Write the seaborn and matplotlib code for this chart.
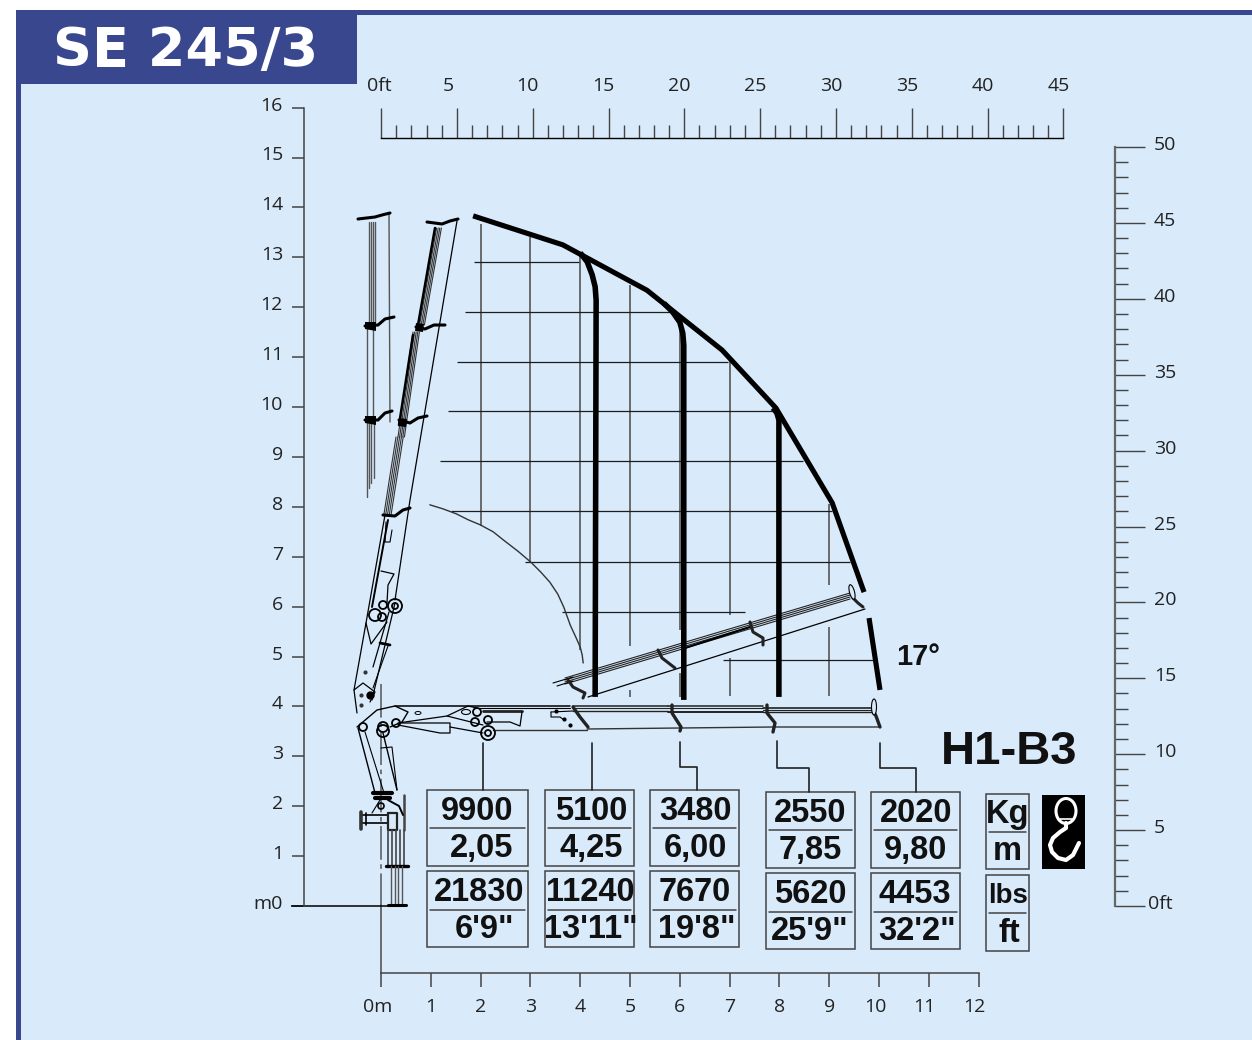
import matplotlib
matplotlib.use("Agg")
import matplotlib.pyplot as plt
import seaborn as sns
from matplotlib.patches import Circle, Ellipse, Polygon, Rectangle

W, H = 1252, 1040
NAVY = "#39478F"
SKY = "#D9EAFA"
INK = "#222222"
EDGE = "#444444"

# envelope and load lines, metres
envelope_x = [1.85, 3.65, 5.34, 6.85, 7.93, 9.06, 9.70]
envelope_y = [13.83, 13.25, 12.34, 11.14, 9.98, 8.08, 6.29]
low_angle_x = [9.80, 10.02]
low_angle_y = [5.77, 4.33]
load1_x = [4.00, 4.14, 4.24, 4.30, 4.32, 4.30]
load1_y = [13.09, 12.91, 12.65, 12.41, 12.14, 4.19]
load2_x = [5.68, 5.86, 6.00, 6.06, 6.08, 6.08]
load2_y = [12.08, 11.90, 11.70, 11.48, 11.24, 4.13]
load3_x = [7.87, 7.95, 7.99, 7.99]
load3_y = [9.98, 9.88, 9.74, 4.19]
arc_x = [0.98, 1.24, 1.51, 1.75, 1.99, 2.25, 2.49, 2.75, 3.01, 3.21, 3.39, 3.55, 3.67, 3.80, 3.92, 4.00, 4.04, 4.06]
arc_y = [8.04, 7.96, 7.86, 7.74, 7.64, 7.50, 7.31, 7.11, 6.89, 6.69, 6.49, 6.25, 5.99, 5.63, 5.37, 5.19, 5.03, 4.87]

# grid segments, metres
vgrid_x = [2, 3, 4, 5, 5, 6, 6, 7, 7, 9, 9]
vgrid_top = [13.67, 13.41, 13.05, 12.44, 4.33, 11.84, 4.67, 11.00, 4.97, 8.05, 5.59]
vgrid_bot = [7.62, 6.89, 5.13, 5.21, 4.19, 5.53, 4.19, 5.83, 4.21, 6.43, 4.21]
hgrid_y = [12.9, 11.9, 10.9, 9.92, 8.92, 7.92, 6.9, 5.9, 4.92]
hgrid_start = [1.87, 1.69, 1.53, 1.35, 1.19, 1.41, 2.89, 3.63, 6.87]
hgrid_end = [3.98, 5.90, 6.97, 7.85, 8.47, 9.06, 9.42, 7.31, 9.88]

# table values
kg_values = ["9900", "5100", "3480", "2550", "2020"]
m_values = ["2,05", "4,25", "6,00", "7,85", "9,80"]
lbs_values = ["21830", "11240", "7670", "5620", "4453"]
ft_values = ["6'9\"", "13'11\"", "19'8\"", "25'9\"", "32'2\""]

# axis labels
m_ticks = list(range(13))
height_ticks = list(range(17))
ft_top_major = list(range(0, 46, 5))
ft_right_major = list(range(0, 51, 5))

sns.set_theme(style="white")
plt.rcParams["font.family"] = ["Open Sans", "DejaVu Sans"]

fig = plt.figure(figsize=(W / 100, H / 100), dpi=100, facecolor="white")

# pixel layer for the frame, the boxes and the crane drawing
art = fig.add_axes([0, 0, 1, 1], facecolor="none")
art.set_xlim(0, W)
art.set_ylim(H, 0)
art.axis("off")

art.add_patch(Rectangle((16, 10), W - 16, H - 10, fc=NAVY, ec="none", zorder=0))
art.add_patch(Rectangle((21, 15), W - 21, H - 15, fc=SKY, ec="none", zorder=0.1))
art.add_patch(Rectangle((16, 10), 341, 74, fc=NAVY, ec="none", zorder=0.2))
art.text(186, 51, "SE 245/3", color="white", fontsize=39, fontweight="bold",
         family="DejaVu Sans", ha="center", va="center")

# metre axes, same size as the figure
ax = fig.add_axes([0, 0, 1, 1], facecolor="none")
ax.set_xlim(-381 / 49.8, (W - 381) / 49.8)
ax.set_ylim((906 - H) / 49.9, 906 / 49.9)
for side in ["top", "right"]:
    ax.spines[side].set_visible(False)
ax.spines["left"].set_position(("data", (304 - 381) / 49.8))
ax.spines["left"].set_bounds(0, 16)
ax.spines["bottom"].set_position(("data", (906 - 973) / 49.9))
ax.spines["bottom"].set_bounds(0, 12)
for side in ["left", "bottom"]:
    ax.spines[side].set_color(EDGE)
    ax.spines[side].set_linewidth(1.1)
ax.set_xticks(m_ticks)
ax.set_yticks(height_ticks)
ax.tick_params(axis="x", direction="out", length=10, width=1.1, color=EDGE,
               bottom=True, labelbottom=False)
ax.tick_params(axis="y", direction="out", length=9, width=1.1, color=EDGE,
               left=True, labelleft=False)

for m in m_ticks:
    label = "0m" if m == 0 else str(m)
    dx = -3 if m == 0 else (-4 if m >= 10 else 0)
    ax.annotate(label, (m, (906 - 973) / 49.9), textcoords="offset pixels",
                xytext=(dx, -34), ha="center", va="center", fontsize=14, color=INK)
for h in height_ticks:
    label = "m0" if h == 0 else str(h)
    ax.annotate(label, ((304 - 381) / 49.8, h), textcoords="offset pixels",
                xytext=(-21, 2), ha="right", va="center", fontsize=14, color=INK)

# chart marks
ax.vlines(vgrid_x, vgrid_bot, vgrid_top, color="#555555", lw=1.2, zorder=2)
ax.hlines(hgrid_y, hgrid_start, hgrid_end, color="#1c1c1c", lw=0.9, zorder=2)
ax.hlines(0, (291 - 381) / 49.8, (393 - 381) / 49.8, color="black", lw=1.1, zorder=2)
sns.lineplot(x=arc_x, y=arc_y, sort=False, estimator=None, color="#333333", lw=1.0, ax=ax)
for xs, ys, width in [(envelope_x, envelope_y, 3.7), (low_angle_x, low_angle_y, 3.7),
                      (load1_x, load1_y, 4.0), (load2_x, load2_y, 4.0), (load3_x, load3_y, 4.0)]:
    sns.lineplot(x=xs, y=ys, sort=False, estimator=None, color="black", lw=width,
                 ax=ax, zorder=4, solid_capstyle="butt", solid_joinstyle="round")

# top feet ruler
ax_top = fig.add_axes([381 / W, 1 - 138 / H, (1063.5 - 381) / W, 30 / H], facecolor="none")
ax_top.set_xlim(0, 45)
ax_top.set_ylim(0, 1)
sns.despine(ax=ax_top, left=True)
ax_top.set_yticks([])
ax_top.set_xticks(ft_top_major)
ax_top.set_xticks(range(46), minor=True)
ax_top.tick_params(axis="x", which="major", direction="in", length=21.6, width=1.0,
                   color=EDGE, bottom=True, labelbottom=False)
ax_top.tick_params(axis="x", which="minor", direction="in", length=9.4, width=1.0,
                   color=EDGE, bottom=True)
ax_top.spines["bottom"].set_color("black")
ax_top.spines["bottom"].set_linewidth(1.0)
for ft in ft_top_major:
    label = "0ft" if ft == 0 else str(ft)
    dx = -2 if ft == 0 else (-9 if ft == 5 else -5)
    ax_top.annotate(label, (ft, 1), xycoords=ax_top.get_xaxis_transform(),
                    textcoords="offset pixels", xytext=(dx, 22), ha="center", va="center",
                    fontsize=14, color=INK)

# right feet ruler
ax_right = fig.add_axes([1115 / W, 1 - 906 / H, 30 / W, (906 - 147) / H], facecolor="none")
ax_right.set_xlim(0, 1)
ax_right.set_ylim(0, 50)
sns.despine(ax=ax_right, bottom=True)
ax_right.set_xticks([])
ax_right.set_yticks(ft_right_major)
ax_right.set_yticks(range(51), minor=True)
ax_right.tick_params(axis="y", which="major", direction="in", length=21.6, width=1.0,
                     color=EDGE, left=True, labelleft=False)
ax_right.tick_params(axis="y", which="minor", direction="in", length=9.4, width=1.0,
                     color=EDGE, left=True)
ax_right.spines["left"].set_color("#666666")
ax_right.spines["left"].set_linewidth(1.6)
for ft in ft_right_major:
    label = "0ft" if ft == 0 else str(ft)
    dx = 3 if ft == 0 else 9
    ax_right.annotate(label, (1, ft), xycoords=ax_right.get_yaxis_transform(),
                      textcoords="offset pixels", xytext=(dx, 2), ha="left", va="center",
                      fontsize=14, color=INK)


# load table, pixel layer
def box(x0, x1, y0, y1, div, top, bottom, ctop, cbottom, size=23.5, size_top=None):
    art.add_patch(Rectangle((x0, y0), x1 - x0, y1 - y0, fc="none", ec=EDGE, lw=1.1, zorder=3))
    art.plot([x0 + 3, x1 - 3], [div, div], color=EDGE, lw=1.1, zorder=3)
    art.text(ctop, (y0 + div) / 2 + 2, top, fontsize=size_top or size, fontweight="bold",
             family="Liberation Sans", color="#111111", ha="center", va="center", zorder=5)
    art.text(cbottom, (div + y1) / 2 + 1, bottom, fontsize=size, fontweight="bold",
             family="Liberation Sans", color="#111111", ha="center", va="center", zorder=5)


kg_boxes = [(427, 528, 790), (545, 634, 790), (650, 739, 790), (766, 855, 792), (871, 960, 792)]
kg_centres = [(477, 482), (591, 591), (695, 695), (810, 810), (916, 916)]
lbs_centres = [(479, 485), (590, 591), (695, 697), (810, 810), (915, 917)]
for i, (x0, x1, y0) in enumerate(kg_boxes):
    box(x0, x1, y0, y0 + 76, y0 + 38, kg_values[i], m_values[i], *kg_centres[i])
    box(x0, x1, y0 + 81, y0 + 157, y0 + 120, lbs_values[i], ft_values[i], *lbs_centres[i])
box(986, 1029, 794, 869, 832, "Kg", "m", 1008, 1007)
box(986, 1029, 875, 951, 913, "lbs", "ft", 1008, 1009, size_top=20)

art.text(1009, 752.5, "H1-B3", fontsize=34, fontweight="bold", family="Liberation Sans",
         color="#111111", ha="center", va="center")
art.text(918, 657, "17°", fontsize=21, fontweight="bold", family="Liberation Sans",
         color="#111111", ha="center", va="center", zorder=5)

# leaders from the boom to the boxes
leaders = [
    [(483, 743), (483, 790)],
    [(592, 743), (592, 790)],
    [(680, 742), (680, 767), (697, 767), (697, 790)],
    [(777, 741), (777, 768), (809, 768), (809, 792)],
    [(880, 743), (880, 768), (916, 768), (916, 792)],
]
for pts in leaders:
    art.plot(*zip(*pts), color="#222222", lw=1.2, zorder=3)

# hook icon
art.add_patch(Rectangle((1042, 795), 43, 74, fc="black", ec="none", zorder=3))
art.add_patch(Ellipse((1066, 811), 20, 25, fc="none", ec="white", lw=2.2, zorder=4))
art.plot([1060, 1072], [819, 819], color="white", lw=1.2, zorder=4)
art.plot([1066, 1066, 1060, 1053, 1050, 1052, 1058, 1066, 1073, 1079],
         [823, 828, 832, 838, 845, 852, 858, 860, 855, 843],
         color="white", lw=3.0, solid_capstyle="round", zorder=4)


def draw(pts, lw=0.9, color="black", z=3):
    art.plot(*zip(*pts), color=color, lw=lw, zorder=z, solid_joinstyle="round")


def pin(x, y, r, lw=1.0):
    art.add_patch(Circle((x, y), r, fc="none", ec="black", lw=lw, zorder=3))


def fill(pts, color="black"):
    art.add_patch(Polygon(pts, closed=True, fc=color, ec="none", zorder=3))


# stowed boom, upright
for x0, x1, y0, y1 in [(369, 369, 222, 322), (371, 371, 222, 322), (373, 373, 222, 322), (375, 375, 222, 322),
                       (367, 367, 325, 420), (373, 373, 325, 420),
                       (367, 367, 420, 497), (369, 369, 420, 488), (371, 371, 420, 483), (374, 374, 420, 478)]:
    draw([(x0, y0), (x1, y1)], lw=1.0, color="#555555")
draw([(389, 213), (390, 422)], lw=1.0, color="#555555")
for head in ([(358, 219), (375, 217), (382, 215), (390, 213)],
             [(365, 326), (378, 325), (385, 319), (394, 317)],
             [(365, 420), (378, 420), (385, 413), (392, 411)]):
    draw(head, lw=2.2)
fill([(365, 322), (376, 322), (376, 331), (365, 329)])
fill([(365, 416), (376, 416), (376, 425), (365, 423)])

# raised boom
for k in range(5):
    draw([(435 + 1.6 * k, 228), (418 + 1.6 * k, 325)], lw=0.8, color="#333333")
    draw([(413 + 1.6 * k, 332), (398 + 1.6 * k, 437)], lw=0.8, color="#333333")
    draw([(396 + 1.8 * k, 437), (384 + 1.8 * k, 514)], lw=0.8, color="#333333")
draw([(435, 228), (418, 325)], lw=1.8)
draw([(413, 335), (399, 425)], lw=1.8)
draw([(457, 221), (410, 500), (395, 600)])
for head in ([(427, 222), (442, 224), (450, 221), (458, 219)],
             [(416, 327), (425, 329), (434, 325), (445, 325)],
             [(399, 420), (410, 423), (418, 418), (427, 416)],
             [(383, 515), (395, 516), (403, 510), (410, 508)]):
    draw(head, lw=2.2)
fill([(416, 323), (424, 324), (423, 332), (415, 331)])
fill([(399, 418), (407, 419), (406, 427), (398, 426)])

draw([(385, 515), (366, 623), (354, 690), (357, 713)])
draw([(388, 520), (372, 607)], lw=1.4)
draw([(381, 571), (394, 574), (388, 585), (387, 603)], lw=0.9)
draw([(386, 522), (385, 542), (390, 542), (392, 530)], lw=0.8)
draw([(395, 603), (375, 687), (372, 700)])
draw([(389, 612), (373, 667)])
draw([(380, 643), (390, 645)], lw=2.0)
draw([(388, 646), (373, 688)], lw=0.8)
draw([(354, 690), (363, 683), (375, 692), (370, 702)])
draw([(366, 623), (371, 644), (387, 622)])
art.plot([370], [695], "o", ms=5, color="black", zorder=3)
art.plot([365, 361, 361], [672, 695, 705], "o", ms=2, color="#333333", zorder=3)
for x, y, r in [(395, 606, 7), (395, 606, 3), (375, 615, 6), (383, 605, 4), (382, 617, 4)]:
    pin(x, y, r, lw=1.3)

# working boom, horizontal
draw([(357, 727), (377, 710), (395, 706), (408, 712), (402, 722), (390, 727)], lw=1.0)
draw([(395, 706), (570, 706)], lw=1.1)
draw([(478, 708), (570, 708)], lw=0.8)
draw([(400, 723), (450, 723), (450, 733), (440, 733), (398, 725), (400, 723)], lw=0.9)
draw([(450, 727), (483, 733)], lw=0.9)
draw([(398, 723), (447, 716), (468, 706), (477, 708)], lw=0.9)
draw([(447, 716), (483, 725)], lw=0.9)
draw([(483, 711), (522, 711)], lw=2.0, color="#222222")
draw([(522, 712), (520, 726), (510, 722), (487, 722)], lw=0.9)
draw([(493, 730), (587, 730)], lw=1.0, color="#333333")
draw([(551, 712), (551, 717), (560, 717), (564, 720)], lw=0.8)
draw([(551, 712), (573, 711)], lw=0.8)
art.plot([570, 556, 564], [725, 711, 719], "o", ms=2, color="black", zorder=3)
for x, y, r in [(477, 712, 4), (475, 722, 4), (488, 720, 4), (488, 733, 7), (488, 733, 3),
                (363, 727, 4), (383, 727, 5), (383, 731, 6), (396, 723, 4)]:
    pin(x, y, r, lw=1.3)
art.add_patch(Ellipse((466, 712), 9, 5, fc="none", ec="black", lw=0.8, zorder=3))
art.add_patch(Ellipse((418, 713), 6, 3, fc="none", ec="black", lw=0.7, zorder=3))

# telescopic sections, horizontal
for y0, y1, x0, x1, w in [(706, 706, 573, 668, 1.1), (708, 708, 573, 668, 0.8), (711, 711, 573, 668, 1.0),
                          (706, 706, 668, 763, 1.1), (708, 708, 668, 763, 0.8), (712, 712, 668, 763, 1.4),
                          (708, 708, 763, 872, 1.2), (710, 710, 763, 872, 0.8), (712, 712, 763, 872, 1.0)]:
    draw([(x0, y0), (x1, y1)], lw=w, color="#222222")
draw([(587, 729), (680, 728), (773, 727), (880, 727)], lw=1.0, color="#333333")
for head in ([(573, 707), (580, 717), (588, 727)],
             [(672, 705), (672, 713), (681, 727), (680, 731)],
             [(767, 705), (767, 713), (775, 723), (773, 732)],
             [(874, 712), (876, 716), (880, 727)]):
    draw(head, lw=2.4, color="#222222")
art.add_patch(Ellipse((874, 707), 5, 16, fc=SKY, ec="black", lw=0.8, zorder=3))

# telescopic sections at 17 degrees
for k in range(4):
    draw([(565, 678 + 2 * k), (850, 593 + 2 * k)], lw=0.8, color="#222222")
draw([(553, 683), (573, 677)], lw=0.8)
draw([(557, 686), (573, 681)], lw=0.8)
draw([(685, 648), (750, 627)], lw=1.5)
draw([(588, 697), (865, 609)], lw=0.9)
for head in ([(568, 680), (573, 687), (585, 693), (583, 698)],
             [(658, 650), (662, 658), (675, 668)],
             [(750, 622), (753, 632), (763, 638), (763, 645)],
             [(853, 598), (858, 603), (863, 607)]):
    draw(head, lw=2.2, color="#222222")
art.add_patch(Ellipse((852, 592), 5, 15, angle=-15, fc=SKY, ec="black", lw=0.8, zorder=3))

# column and base
draw([(358, 728), (375, 793)], lw=1.0)
draw([(365, 732), (384, 793)], lw=0.8)
draw([(383, 733), (397, 790)], lw=1.0)
draw([(381, 748), (392, 747), (397, 790)], lw=0.8)
draw([(373, 793), (392, 793)], lw=3.0)
draw([(375, 798), (390, 798)], lw=3.0)
draw([(362, 815), (388, 815)], lw=1.2)
draw([(362, 823), (388, 823)], lw=1.2)
draw([(361, 812), (361, 829)], lw=2.6, color="#333333")
draw([(366, 813), (366, 825)], lw=1.2)
draw([(372, 813), (380, 800)], lw=0.8)
pin(381, 806, 3, lw=1.2)
draw([(404, 795), (404, 830)], lw=1.8, color="#444444")
draw([(388, 813), (388, 830), (397, 830), (397, 813), (388, 813)], lw=1.6, color="#222222")
draw([(388, 800), (399, 806), (403, 815)], lw=1.4)
for x in [387, 391, 395, 399, 403]:
    draw([(x + 1, 830), (x + 1, 866)], lw=1.2, color="#444444")
draw([(386, 866), (408, 866)], lw=2.4)
for x in [391, 395, 398, 402]:
    draw([(x, 866), (x, 904)], lw=1.0, color="#555555")
draw([(388, 905), (406, 905)], lw=2.2)

# centre line of the column
art.plot([381, 381], [684, 905], color="#555555", lw=1.1, zorder=2, dashes=(22, 3, 3, 3))
art.plot([381, 381], [905, 973], color="#555555", lw=1.2, zorder=2)

fig.savefig("out.png", dpi=100, facecolor="white")
